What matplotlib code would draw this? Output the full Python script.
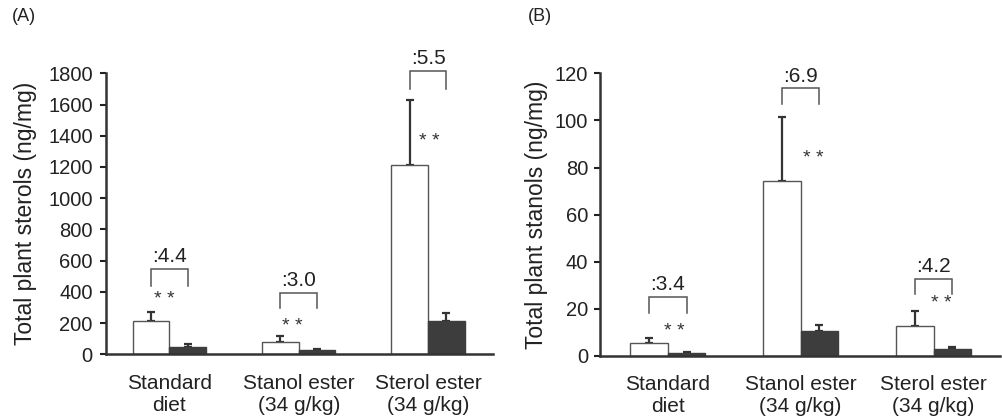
import matplotlib
matplotlib.use("Agg")
import matplotlib.pyplot as plt
import numpy as np

plt.rcParams['font.family'] = ['Liberation Sans', 'DejaVu Sans']

categories = ["Standard\ndiet", "Stanol ester\n(34 g/kg)", "Sterol ester\n(34 g/kg)"]

# Panel A: total plant sterols (ng/mg)
a_white = [215, 81, 1213]
a_white_err = [58, 34, 416]
a_dark = [47, 27, 213]
a_dark_err = [17, 7, 54]
a_ratio = [":4.4", ":3.0", ":5.5"]
a_br_top = [548, 391, 1815]
a_br_end = [440, 295, 1702]
a_star_x = [-0.04, -0.05, 0.01]
a_star_y = [348, 181, 1362]

# Panel B: total plant stanols (ng/mg)
b_white = [5.5, 74.4, 12.9]
b_white_err = [2.3, 27.0, 6.2]
b_dark = [1.4, 10.5, 3.1]
b_dark_err = [0.4, 2.7, 0.7]
b_ratio = [":3.4", ":6.9", ":4.2"]
b_br_top = [25.2, 113.6, 32.8]
b_br_end = [18.4, 107.0, 26.4]
b_star_x = [0.047, 0.093, 0.056]
b_star_y = [10.3, 83.9, 22.4]

fig = plt.figure(figsize=(10.03, 4.2), dpi=100)
axA = fig.add_axes([0.1057, 0.1564, 0.3855, 0.6691])
axB = fig.add_axes([0.5982, 0.1524, 0.3988, 0.6731])

W = 0.283
edge = '#555555'
darkc = '#3d3d3d'


def draw(ax, white, werr, dark, derr, ratio, btop, bend, sx, sy, ymax, yticks, ylabel, xlim, lpad, tpad):
    x = np.arange(len(categories))
    ax.bar(x - W / 2, white, W, color='white', edgecolor=edge, linewidth=1.0, zorder=2)
    ax.bar(x + W / 2, dark, W, color=darkc, edgecolor=darkc, linewidth=1.0, zorder=2)
    ax.errorbar(x - W / 2, white, yerr=[np.zeros(len(white)), werr], fmt='none',
                ecolor='#333333', elinewidth=1.6, capsize=3.2, capthick=1.6, zorder=1)
    ax.errorbar(x + W / 2, dark, yerr=[np.zeros(len(dark)), derr], fmt='none',
                ecolor='#333333', elinewidth=1.6, capsize=3.2, capthick=1.6, zorder=1)
    for i in range(len(categories)):
        xl, xr = x[i] - W / 2, x[i] + W / 2
        ax.plot([xl, xl, xr, xr], [bend[i], btop[i], btop[i], bend[i]], color=edge,
                lw=1.1, clip_on=False, solid_joinstyle='miter')
        ax.annotate(ratio[i], (x[i], btop[i]), xytext=(0, 2), textcoords='offset points',
                    ha='center', va='bottom', fontsize=15, color='#222222', annotation_clip=False)
        ax.text(x[i] + sx[i], sy[i], '* *', ha='center', va='center', fontsize=14,
                color='#333333')
    ax.set_xlim(*xlim)
    ax.set_ylim(0, ymax)
    ax.set_yticks(yticks)
    ax.set_xticks(x)
    ax.set_xticklabels(categories, fontsize=15, color='#222222', linespacing=1.2)
    ax.tick_params(axis='x', length=0, pad=14)
    ax.tick_params(axis='y', length=4, width=1.5, direction='out', labelsize=14.5, colors='#222222', pad=tpad)
    ax.set_ylabel(ylabel, fontsize=16.5, color='#222222', labelpad=lpad)
    for s in ['top', 'right']:
        ax.spines[s].set_visible(False)
    for s in ['left', 'bottom']:
        ax.spines[s].set_linewidth(1.8)
        ax.spines[s].set_color('#333333')


draw(axA, a_white, a_white_err, a_dark, a_dark_err, a_ratio, a_br_top, a_br_end,
     a_star_x, a_star_y, 1800, np.arange(0, 1801, 200), 'Total plant sterols (ng/mg)', (-0.49, 2.5), 8, 5.5)
draw(axB, b_white, b_white_err, b_dark, b_dark_err, b_ratio, b_br_top, b_br_end,
     b_star_x, b_star_y, 120, np.arange(0, 121, 20), 'Total plant stanols (ng/mg)', (-0.51, 2.5), 5, 4.5)

fig.text(0.012, 0.96, '(A)', fontsize=13, color='#222222', va='center')
fig.text(0.526, 0.96, '(B)', fontsize=13, color='#222222', va='center')

fig.savefig('out.png', dpi=100)
